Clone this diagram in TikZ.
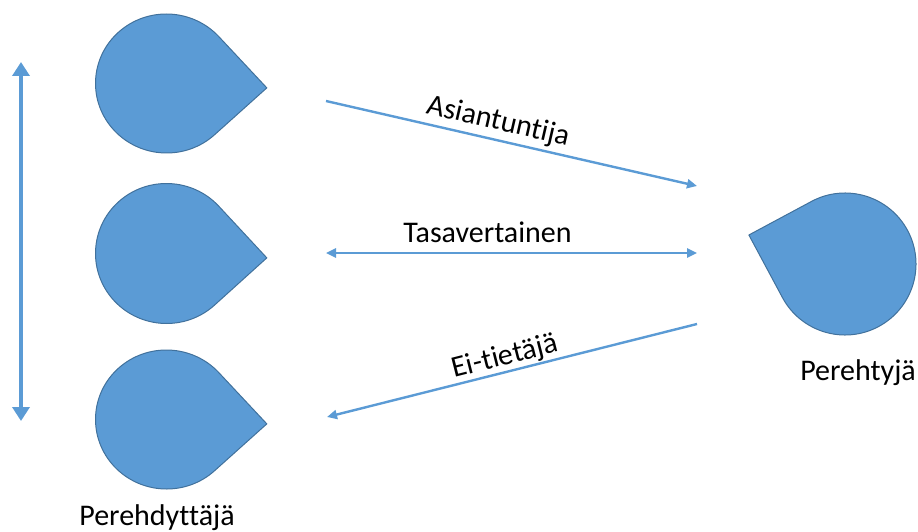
\documentclass[tikz,border=0pt]{standalone}
\usepackage{fontspec}
\setmainfont{Carlito}[RawFeature=-liga]
\usetikzlibrary{arrows.meta}

\definecolor{dropfill}{HTML}{5B9BD5}
\definecolor{dropedge}{HTML}{41719C}
\definecolor{linkblue}{HTML}{5B9BD5}

\tikzset{
  drop/.style={fill=dropfill, draw=dropedge, line width=1pt, line join=round},
  link/.style={draw=linkblue, line width=2.4pt,
    -{Triangle[length=10pt,width=9pt]}},
  twolink/.style={draw=linkblue, line width=2.4pt,
    {Triangle[length=10pt,width=9pt]}-{Triangle[length=10pt,width=9pt]}},
  rangebar/.style={draw=linkblue, line width=4.5pt,
    {Triangle[length=14pt,width=17pt]}-{Triangle[length=14pt,width=17pt]}},
  lbl/.style={font=\fontsize{30}{35}\selectfont, inner sep=0pt, text=black}
}

% teardrop: round body with its point along the local x axis
\newcommand{\dropshape}[2]{%
  \path[drop] ({#1*1.41421},0) -- (45:{#1} and {#2})
    arc[start angle=45, end angle=315, x radius=#1, y radius=#2] -- cycle;}

\begin{document}
\begin{tikzpicture}[x=1pt, y=-1pt]
\useasboundingbox (0,0) rectangle (918,532);

% three guides on the left
\begin{scope}[shift={(166.5,83.5)}, rotate=-2.5]
  \dropshape{71}{69.5}
\end{scope}
\begin{scope}[shift={(166.5,253.5)}, rotate=-2.5]
  \dropshape{71}{70}
\end{scope}
\begin{scope}[shift={(166.5,419.5)}, rotate=-2.5]
  \dropshape{71}{69.5}
\end{scope}

% newcomer on the right
\begin{scope}[shift={(845,264)}, rotate=163.2]
  \dropshape{71}{71}
\end{scope}

% connector ends
\coordinate (a1) at (326,101);
\coordinate (a2) at (697,186);
\coordinate (b1) at (326,253);
\coordinate (b2) at (697,253);
\coordinate (c1) at (697,324);
\coordinate (c2) at (327,417);
\coordinate (v1) at (21,62);
\coordinate (v2) at (21,421);

\draw[link] (a1) -- (a2);
\draw[twolink] (b1) -- (b2);
\draw[link] (c1) -- (c2);
\draw[rangebar] (v1) -- (v2);

% labels
\node[lbl, rotate=-13] (asi) at (498,122) {Asiantuntija};
\node[lbl] (tas) at (487.5,232) {Tasavertainen};
\node[lbl, rotate=14.2] (eit) at (505,357) {Ei-tietäjä};
\node[lbl] (pdt) at (157,518) {Perehdyttäjä};
\node[lbl] (pty) at (858,373) {Perehtyjä};
\end{tikzpicture}
\end{document}
